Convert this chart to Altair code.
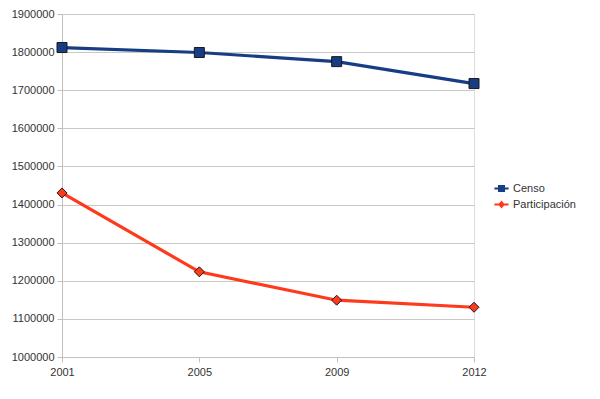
import altair as alt
import pandas as pd

years = ["2001", "2005", "2009", "2012"]
censo = [1812000, 1799000, 1775000, 1717500]
participacion = [1430500, 1223500, 1149000, 1130500]
series = ["Censo", "Participación"]
colors = ["#173d84", "#ff3a1c"]
shapes = ["square", "diamond"]
y_ticks = list(range(1000000, 1900001, 100000))

rows = []
for i, y in enumerate(years):
    rows.append({"year": y, "serie": series[0], "value": censo[i]})
    rows.append({"year": y, "serie": series[1], "value": participacion[i]})
df = pd.DataFrame(rows)

font = "Liberation Sans"

x_scale = alt.Scale(type="point", padding=0)
y_scale = alt.Scale(domain=[1000000, 1900000], nice=False, zero=False)

x_axis = alt.Axis(labelAngle=0, labelFont=font, labelFontSize=11,
                  labelColor="#333333", tickColor="#c0c0c0",
                  domainColor="#c0c0c0", tickSize=5, labelPadding=4,
                  grid=False, title=None)
y_axis = alt.Axis(values=y_ticks, format="d", labelFont=font,
                  labelFontSize=11, labelColor="#333333",
                  labelOverlap=False, labelSeparation=0,
                  tickColor="#c0c0c0", domainColor="#c0c0c0",
                  gridColor="#c8c8c8", tickSize=5, labelPadding=3, title=None)

x_enc = alt.X("year:O", sort=years, title=None, scale=x_scale, axis=x_axis)
y_enc = alt.Y("value:Q", title=None, scale=y_scale, axis=y_axis)

sq_path = "M-1,-0.14H-0.5V-0.5H0.5V-0.14H1V0.14H0.5V0.5H-0.5V0.14H-1Z"
di_path = "M-1,-0.14H-0.36L0,-0.55L0.36,-0.14H1V0.14H0.36L0,0.55L-0.36,0.14H-1Z"

base = alt.Chart(df)

lines = base.mark_line(strokeWidth=3.2).encode(
    x=x_enc, y=y_enc,
    color=alt.Color("serie:N", sort=series, legend=None,
                    scale=alt.Scale(domain=series, range=colors)),
    detail="serie:N",
)

points = base.mark_point(filled=True, stroke="#1a1a1a", strokeWidth=1,
                         opacity=1).encode(
    x=x_enc, y=y_enc,
    color=alt.Color("serie:N", sort=series, legend=None,
                    scale=alt.Scale(domain=series, range=colors)),
    shape=alt.Shape("serie:N", scale=alt.Scale(domain=series, range=shapes),
                    legend=None),
    size=alt.Size("serie:N", scale=alt.Scale(domain=series, range=[100, 100]),
                  legend=None),
)

leg_props = dict(
    title=None, orient="none", legendX=432, legendY=167,
    labelFont=font, labelFontSize=11, labelColor="#333333",
    symbolSize=200, labelOffset=4, rowPadding=3,
    symbolOpacity=1, symbolStrokeColor="#222222", symbolStrokeWidth=0.7,
)

legend_layer = base.transform_calculate(leg="datum.serie").mark_point(
    filled=True, opacity=0, stroke="#222222", strokeWidth=0.7
).encode(
    x=x_enc, y=y_enc,
    color=alt.Color("leg:N", sort=series,
                    scale=alt.Scale(domain=series, range=colors),
                    legend=alt.Legend(**leg_props)),
    shape=alt.Shape("leg:N", sort=series,
                    scale=alt.Scale(domain=series, range=[sq_path, di_path]),
                    legend=alt.Legend(**leg_props)),
)

chart = alt.layer(lines, points, legend_layer).resolve_scale(
    color="independent", shape="independent"
).properties(
    width=412, height=343,
    autosize=alt.AutoSizeParams(type="none"),
    padding={"left": 54, "top": 6, "right": 118, "bottom": 34},
).configure_view(stroke="#c8c8c8").configure_axis(
    labelOverlap=False
).configure(background="white")

chart.save("out.html", embed_options={"renderer": "svg", "actions": False})
